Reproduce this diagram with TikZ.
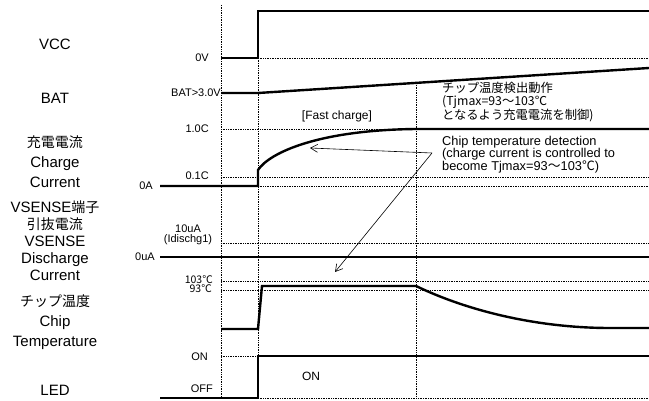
\documentclass[tikz,border=0pt]{standalone}
\usepackage{fontspec}
\setmainfont{Liberation Sans}
\newfontfamily\jp{Noto Sans CJK JP}
\usetikzlibrary{arrows.meta}

\tikzset{
  sig/.style={line width=2.4pt,line join=miter},
  guide/.style={densely dotted,line width=0.7pt},
  signame/.style={font=\fontsize{15}{20}\selectfont,align=center,inner sep=0pt},
  level/.style={font=\fontsize{11}{11}\selectfont,anchor=east,inner sep=0pt},
  small/.style={font=\fontsize{11}{10.5}\selectfont,align=center,inner sep=0pt},
  note/.style={font=\fontsize{12.8}{12.5}\selectfont,align=left,anchor=north west,inner sep=0pt},
  pointer/.style={-{Straight Barb[length=7pt,width=8pt]},line width=0.6pt}
}

\begin{document}
\begin{tikzpicture}[x=1pt,y=-1pt]
  \useasboundingbox (0,0) rectangle (649,401);

  %% signal names
  \node[signame] (vccname) at (55,44) {VCC};
  \node[signame] (batname) at (55,98) {BAT};
  \node[signame] (chgname) at (55,162) {{\jp\fontsize{14}{20}\selectfont 充電電流}\\Charge\\Current};
  \node[signame,font=\fontsize{15}{17}\selectfont] (vsname) at (55,241)
    {VSENSE{\jp\fontsize{14}{17}\selectfont 端子}\\{\jp\fontsize{14}{17}\selectfont 引抜電流}\\VSENSE\\Discharge\\Current};
  \node[signame] (tmpname) at (55,322) {{\jp\fontsize{14}{20}\selectfont チップ温度}\\Chip\\Temperature};
  \node[signame] (ledname) at (55,390) {LED};

  %% level labels
  \node[level] (l0v) at (209,58) {0V};
  \node[level] (lbat) at (221,93) {BAT>3.0V};
  \node[level] (l1c) at (209,129) {1.0C};
  \node[level] (l01c) at (209,176) {0.1C};
  \node[level] (l0a) at (153,186) {0A};
  \node[small] (l10u) at (188,235) {10uA\\(Idischg1)};
  \node[level] (l0u) at (155,257) {0uA};
  \node[level,font=\jp\fontsize{10.5}{10}\selectfont] (l103) at (213,280) {103℃};
  \node[level,font=\jp\fontsize{10.5}{10}\selectfont] (l93) at (212,289) {93℃};
  \node[level] (lon) at (208,357) {ON};
  \node[level] (loff) at (213,389) {OFF};

  %% guide lines
  \draw[guide] (221,5) -- (221,398);
  \draw[guide] (258,58) -- (258,398);
  \draw[guide] (416,85) -- (416,398);
  \draw[guide] (258,58) -- (649,58);
  \draw[guide] (221,129) -- (416,129);
  \draw[guide] (221,177) -- (649,177);
  \draw[guide] (258,186) -- (649,186);
  \draw[guide] (221,243) -- (649,243);
  \draw[guide] (221,281) -- (649,281);
  \draw[guide] (221,290) -- (649,290);
  \draw[guide] (221,356) -- (258,356);
  \draw[guide] (258,398) -- (649,398);

  %% signals
  \draw[sig] (221,58) -- (258,58) -- (258,11) -- (649,11);
  \draw[sig] (221,93) -- (258,93) -- (649,68);
  \draw[sig] (160,186) -- (258,186) -- (258,170)
    .. controls (270,152) and (320,130) .. (416,129) -- (649,129);
  \draw[sig] (160,257) -- (649,257);
  \draw[sig] (221,329) -- (258,329) -- (262,286) -- (416,286)
    .. controls (470,312) and (540,328) .. (610,328) -- (649,328);
  \draw[sig] (160,398) -- (258,398) -- (258,356) -- (649,356);

  %% notes
  \node[font=\fontsize{12}{12}\selectfont] (fast) at (337,116) {[Fast charge]};
  \node[font=\fontsize{12}{12}\selectfont] (ledon) at (311,376) {ON};
  \node[note,font=\jp\fontsize{12.3}{12.5}\selectfont] (notejp) at (442,82)
    {チップ温度検出動作\\(Tjmax=93～103℃\\となるよう充電電流を制御)};
  \node[note] (noteen) at (442,136)
    {Chip temperature detection\\(charge current is controlled to\\become Tjmax=93{\jp ～}103{\jp ℃})};

  \coordinate (tail) at (432,153);
  \coordinate (curvept) at (310,148);
  \coordinate (tmppt) at (335,272);
  \draw[pointer] (tail) -- (curvept);
  \draw[pointer] (tail) -- (tmppt);
\end{tikzpicture}
\end{document}
